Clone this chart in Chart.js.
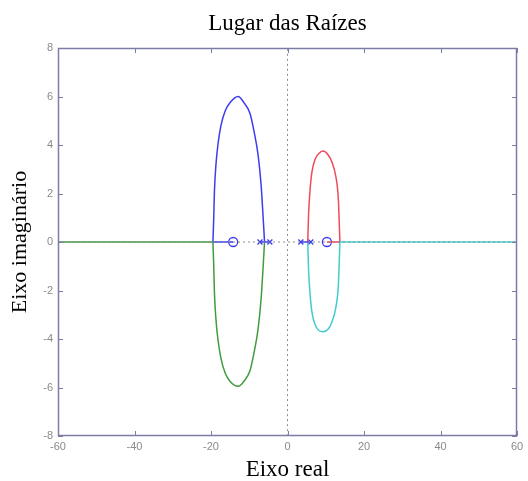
<!DOCTYPE html>
<html><head><meta charset="utf-8">
<script src="https://cdn.jsdelivr.net/npm/chart.js@4/dist/chart.umd.min.js"></script>
<style>html,body{margin:0;padding:0;background:#fff}#wrap{width:528px;height:481px}</style>
</head><body><div id="wrap"><canvas id="c"></canvas></div>
<script>
const xTicks = [-60, -40, -20, 0, 20, 40, 60];
const yTicks = [-8, -6, -4, -2, 0, 2, 4, 6, 8];
// upper-left branch (blue)
const blueX = [-19.5,-19.3,-19.1,-18.7,-18.2,-17.4,-16.3,-15.0,-12.9,-11.4,-9.8,-8.8,-7.7,-6.9,-6.4,-6.0];
const blueY = [0,0.9,2.1,3.2,4.0,4.8,5.4,5.75,6.0,5.75,5.3,4.6,3.6,2.35,1.1,0];
// lower-left branch (green)
const greenX = [-19.5,-19.3,-19.1,-18.7,-18.2,-17.4,-16.3,-15.0,-12.9,-11.4,-9.8,-8.8,-7.7,-6.9,-6.4,-6.0];
const greenY = [0,-0.9,-2.1,-3.2,-4.0,-4.8,-5.4,-5.75,-5.95,-5.75,-5.3,-4.6,-3.6,-2.35,-1.1,0];
// upper-right branch (red)
const redX = [5.3,5.5,5.9,6.4,7.2,8.2,9.3,10.6,11.6,12.7,13.3,13.7];
const redY = [0,1.1,2.15,2.9,3.4,3.65,3.75,3.6,3.3,2.65,1.75,0];
// lower-right branch (cyan)
const cyanX = [5.3,5.5,5.9,6.4,7.2,8.2,9.3,10.6,11.6,12.7,13.3,13.7];
const cyanY = [0,-1.1,-2.15,-2.9,-3.4,-3.65,-3.7,-3.6,-3.3,-2.65,-1.75,0];
const realSegGreen = [-60, -19.5];
const realSegBlue = [-19.5, -14.2];
const realSegBlue2 = [-7.2, -4.6];
const realSegRed = [10.3, 13.7];
const realSegRed2 = [3.5, 6.1];
const realSegCyan = [13.7, 60];
const polesX = [-7.2, -4.6, 3.5, 6.1];
const zerosX = [-14.2, 10.3];

const pts = (xs, ys) => xs.map((x, i) => ({x, y: ys[i]}));
const seg = (a) => [{x: a[0], y: 0}, {x: a[1], y: 0}];
const BLUE = '#3d3df0', RED = '#ee4b5a', GREEN = '#3f9c3f', CYAN = '#42cccc';
const line = (data, color, extra) => Object.assign({data, borderColor: color, borderWidth: 1.5, showLine: true, pointRadius: 0, fill: false, cubicInterpolationMode: 'monotone'}, extra || {});

const frame = {
  id: 'frame',
  afterDraw(chart) {
    const {ctx, chartArea: a, scales: {x, y}} = chart;
    ctx.save();
    ctx.strokeStyle = '#7c7ca6';
    ctx.lineWidth = 1.5;
    ctx.strokeRect(a.left + 0.5, a.top + 0.5, a.right - a.left - 1, a.bottom - a.top - 1);
    const L = 5;
    ctx.lineWidth = 1;
    ctx.beginPath();
    x.ticks.forEach(t => {
      const px = Math.round(x.getPixelForValue(t.value)) + 0.5;
      ctx.moveTo(px, a.bottom); ctx.lineTo(px, a.bottom - L);
      ctx.moveTo(px, a.top); ctx.lineTo(px, a.top + L);
    });
    y.ticks.forEach(t => {
      const py = Math.round(y.getPixelForValue(t.value)) + 0.5;
      ctx.moveTo(a.left, py); ctx.lineTo(a.left + L, py);
      ctx.moveTo(a.right, py); ctx.lineTo(a.right - L, py);
    });
    ctx.stroke();
    ctx.restore();
  }
};

new Chart(document.getElementById('c'), {
  type: 'scatter',
  data: {
    datasets: [
      line([{x: 0, y: -8}, {x: 0, y: 8}], '#8c8c8c', {borderWidth: 1, borderDash: [2, 3]}),
      line(seg([-60, 60]), '#8c8c8c', {borderWidth: 1, borderDash: [2, 3]}),
      line(seg(realSegGreen), GREEN),
      line(seg(realSegBlue), BLUE),
      line(seg(realSegBlue2), BLUE),
      line(seg(realSegRed), RED),
      line(seg(realSegRed2), BLUE),
      line(seg(realSegCyan), CYAN),
      line(pts(blueX, blueY), BLUE),
      line(pts(greenX, greenY), GREEN),
      line(pts(redX, redY), RED),
      line(pts(cyanX, cyanY), CYAN),
      {data: polesX.map(x => ({x, y: 0})), pointStyle: 'crossRot', pointRadius: 3.5, borderColor: BLUE, borderWidth: 1.3, showLine: false},
      {data: zerosX.map(x => ({x, y: 0})), pointStyle: 'circle', pointRadius: 4.5, borderColor: BLUE, backgroundColor: 'rgba(0,0,0,0)', borderWidth: 1.3, showLine: false}
    ]
  },
  options: {
    responsive: true, maintainAspectRatio: false, animation: false,
    layout: {padding: {left: 0, right: 11, top: 0, bottom: 0}},
    plugins: {
      legend: {display: false}, tooltip: {enabled: false},
      title: {display: true, fullSize: false, text: 'Lugar das Raízes', color: '#000',
        font: {family: '"Liberation Serif", "Times New Roman", serif', size: 23, weight: 'normal', lineHeight: 1.2},
        padding: {top: 10, bottom: 10.4}}
    },
    scales: {
      x: {
        type: 'linear', min: -60, max: 60,
        afterBuildTicks: s => { s.ticks = xTicks.map(v => ({value: v})); },
        afterFit: s => { s.height = 45; },
        grid: {display: false, drawTicks: false},
        border: {display: false},
        ticks: {color: '#8a8a8a', padding: 4, font: {family: '"Liberation Sans", Arial, sans-serif', size: 11}, maxRotation: 0},
        title: {display: true, text: 'Eixo real', color: '#000', padding: {top: 0, bottom: 0},
          font: {family: '"Liberation Serif", "Times New Roman", serif', size: 23, lineHeight: 1}}
      },
      y: {
        type: 'linear', min: -8, max: 8,
        afterBuildTicks: s => { s.ticks = yTicks.map(v => ({value: v})); },
        afterFit: s => { s.width = 58; },
        grid: {display: false, drawTicks: false},
        border: {display: false},
        ticks: {color: '#8a8a8a', padding: 5, font: {family: '"Liberation Sans", Arial, sans-serif', size: 11}},
        title: {display: true, text: 'Eixo imaginário', color: '#000', padding: {top: 7, bottom: 0},
          font: {family: '"Liberation Serif", "Times New Roman", serif', size: 22, lineHeight: 1.2}}
      }
    }
  },
  plugins: [frame]
});
</script></body></html>
